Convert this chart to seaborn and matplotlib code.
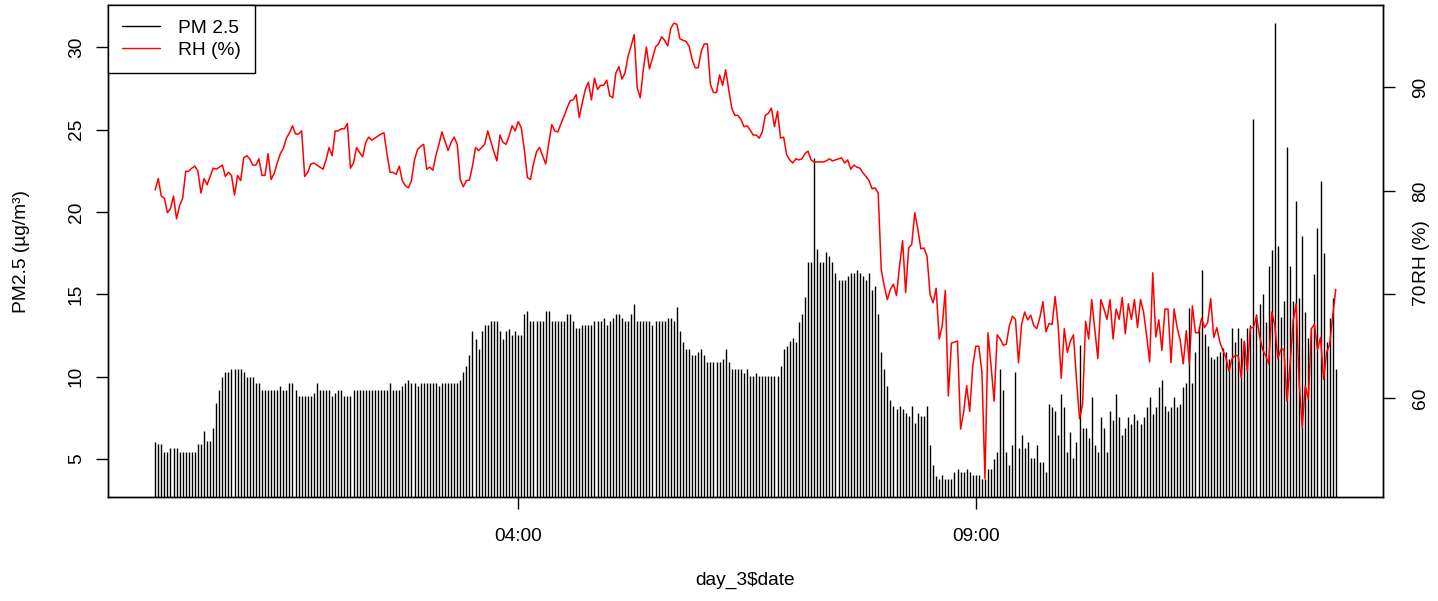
import matplotlib
matplotlib.use("Agg")
import matplotlib.pyplot as plt
import matplotlib.dates as mdates
from matplotlib.lines import Line2D
import seaborn as sns
import pandas as pd

# 2-minute readings, day 3 (00:02 -> 12:56)
start_time = "2021-06-03 00:02"
step = "2min"

pm25 = [
    6.0, 5.9, 5.9, 5.4, 5.4, 5.65, 5.65, 5.65, 5.4, 5.4, 5.4, 5.4, 5.4, 5.4, 5.9, 5.9, 6.7, 6.1, 6.1, 6.9,
    8.4, 9.2, 10.0, 10.25, 10.25, 10.45, 10.45, 10.45, 10.45, 10.25, 10.0, 10.0, 10.0, 9.6, 9.6, 9.2, 9.2, 9.2, 9.2, 9.2,
    9.2, 9.4, 9.2, 9.2, 9.6, 9.6, 9.2, 8.8, 8.8, 8.8, 8.8, 8.8, 9.0, 9.6, 9.2, 9.2, 9.2, 9.2, 8.8, 9.0,
    9.2,
    9.2, 8.8, 8.8, 8.8, 9.2, 9.2, 9.2, 9.2, 9.2, 9.2, 9.2, 9.2, 9.2, 9.2, 9.2, 9.2, 9.6, 9.2, 9.2, 9.2,
    9.4, 9.6, 9.8, 9.6, 9.6, 9.4, 9.6, 9.6, 9.6, 9.6, 9.6, 9.6, 9.4, 9.6, 9.6, 9.6, 9.6, 9.6, 9.6, 9.8,
    10.25, 10.65, 11.3, 12.75, 12.3, 11.7, 12.75, 13.15, 13.15, 13.35, 13.35, 13.35, 12.75, 12.3, 12.75, 12.9,
    12.55, 12.75, 12.55, 12.55, 13.8, 14.0, 13.35, 13.35, 13.35, 13.35,
    13.35, 14.0, 14.0, 13.35, 13.35, 13.35, 13.35, 13.35, 13.8, 13.8, 13.35, 12.95, 12.95, 13.15, 13.15, 13.15,
    13.15, 13.35, 13.35, 13.35, 13.57, 13.15, 13.35, 13.57, 13.8, 13.8, 13.57, 13.35, 13.35, 13.8, 14.4, 13.35,
    13.35, 13.35, 13.35, 13.35, 13.15, 13.35, 13.35, 13.35, 13.35, 13.57, 13.57, 13.35, 14.2, 12.75, 12.12, 11.7,
    11.7, 11.29, 11.29, 11.49, 11.7, 11.29, 10.87, 10.87, 10.87, 10.87, 10.87, 11.07, 11.7, 10.87, 10.46, 10.46,
    10.46,
    10.46, 10.22, 10.46, 10.02, 10.02, 10.22, 10.02, 10.02, 10.02, 10.02, 10.02, 10.02, 10.02, 10.66, 11.67, 11.88,
    12.18, 12.32, 12.12, 13.3, 13.8, 14.81, 16.94, 16.94, 23.3, 17.74, 16.94, 16.94, 17.54, 17.3, 16.94, 16.29,
    15.88, 15.88, 15.88, 16.09, 16.29, 16.29, 16.49, 16.29, 16.09, 15.88, 16.29, 15.27, 15.48, 13.8, 11.47, 10.46,
    9.41, 8.6, 8.2, 8.0, 8.2, 8.0, 7.79, 7.59, 8.2, 7.18, 7.79, 7.59, 7.59, 8.2, 5.87, 4.6, 3.95, 3.79,
    3.99, 3.79, 3.79, 3.79, 4.19, 4.39, 4.19, 4.19, 4.39, 4.19, 3.99, 3.99, 3.99, 3.79, 3.79, 4.39, 4.39, 5.0,
    5.4, 10.46, 9.19, 5.4, 4.6, 5.85, 10.26, 5.65, 6.47, 5.65, 6.05, 5.04, 5.04, 5.85, 4.8, 4.8, 4.19, 8.34,
    8.14, 7.93, 6.47, 8.94, 8.14, 5.44, 6.62, 5.04, 6.05, 11.92, 6.88, 6.88, 6.27, 8.74, 5.85, 5.44, 7.53, 6.88,
    5.44, 7.93, 7.33, 8.94, 7.53, 6.47, 6.88, 7.53, 7.12, 7.73, 7.33,
    7.12, 7.53, 8.14, 8.74, 7.73, 8.14, 9.35, 9.81, 8.2, 7.93, 8.14, 8.74, 8.14, 8.34, 9.35, 9.61, 14.16, 9.61,
    11.47, 13.0, 16.49, 12.59, 11.88, 11.17, 11.07, 11.27, 11.47, 11.72, 11.47, 11.07, 12.93, 12.12, 12.93, 12.32,
    12.12, 12.93, 13.13, 25.67, 13.8, 14.4, 15.0, 13.33, 16.7, 17.7, 31.46, 17.94, 13.6, 14.6, 23.97, 16.7, 14.6,
    20.64, 14.8, 18.55, 13.94, 12.32, 12.93, 16.23, 19.0, 21.89, 17.5, 12.12, 13.54, 14.8, 10.46,
]

rh = [
    80.1, 81.2, 79.5, 79.3, 77.9, 78.3, 79.5, 77.3, 78.6, 79.3, 81.9, 81.9, 82.2, 82.4, 81.9, 79.8, 81.2, 80.6,
    81.4, 82.2, 82.1, 82.3, 82.5, 81.4, 81.8, 81.5, 79.6, 81.5, 81.0, 83.2, 83.4, 83.1, 82.5, 82.5, 83.1, 81.5,
    81.5, 83.6, 81.1, 81.7, 82.7, 83.6, 84.1, 85.1, 85.6, 86.3, 85.5, 85.5, 85.8, 81.4, 81.8, 82.6, 82.7, 82.5,
    82.3, 82.1, 83.0, 84.2, 83.4, 85.8, 85.8, 86.0, 86.0, 86.5, 82.2, 82.7, 84.2, 83.7, 83.3, 84.7, 85.2, 84.9,
    85.1, 85.3, 85.5, 85.6, 83.5,
    81.8, 81.8, 81.6, 82.4, 81.0, 80.5, 80.3, 81.0, 83.0, 84.0, 84.3, 84.5, 82.1, 82.3, 82.0, 83.4, 84.5, 85.7,
    84.8, 83.9, 84.7, 85.2, 84.5, 81.1, 80.4, 81.0, 81.05, 82.4, 84.2, 83.9, 84.2, 84.5, 85.8, 84.8, 83.8, 82.9,
    85.4, 84.7, 84.5, 85.3, 86.3, 85.8, 86.7, 86.1, 84.0, 81.3, 81.1, 82.6, 83.8, 84.2, 83.4, 82.6, 84.6, 86.4,
    85.8, 85.7, 86.5, 87.2, 88.0, 88.7, 88.8, 89.3, 87.1,
    88.5, 89.8, 90.5, 88.8, 90.9, 89.8, 90.2, 90.2, 90.7, 89.2, 89.0, 91.4, 92.0, 90.8, 91.4, 93.0, 94.0, 95.1,
    89.95, 89.0, 91.7, 93.9, 91.8, 92.8, 93.9, 94.2, 94.9, 94.55, 94.0, 95.7, 96.2, 96.1, 94.7, 94.55, 94.45, 94.0,
    92.7, 91.9, 91.9, 93.5, 94.2, 94.2, 90.3, 89.5, 89.5, 91.2, 90.2, 91.7, 89.8, 88.0, 87.3, 87.3, 86.9, 86.2,
    86.3, 85.9, 85.4, 85.4, 85.1, 85.7, 87.3, 87.5, 88.0, 86.2, 87.7, 85.1, 85.2, 83.5,
    83.0, 82.7, 83.1, 83.0, 83.1, 83.6, 83.85, 83.0, 82.8, 82.8, 82.8, 82.8, 82.9, 83.1, 82.9, 83.0, 83.1, 83.2,
    82.7, 83.0, 82.1, 82.5, 82.3, 82.2, 81.75, 81.4, 81.0, 80.2, 80.3, 79.8, 72.4, 70.8, 69.5, 70.5, 71.0, 69.9,
    72.75, 75.2, 70.2, 74.5, 74.85, 77.9, 76.3, 74.4, 74.5, 73.7, 70.0, 69.2, 70.6, 65.7,
    67.0, 70.4, 60.2, 65.3, 65.4, 65.5, 57.0, 58.6, 61.2, 58.7, 63.1, 65.0, 65.0, 62.5, 52.2, 66.3, 63.1, 59.7,
    66.1, 65.7, 65.1, 65.2, 67.0, 67.9, 67.6, 63.4, 67.1, 68.3, 67.55, 68.0, 67.0, 66.7, 67.8, 69.3, 66.4, 67.2,
    67.1, 69.8, 67.0, 61.9, 66.7, 64.4, 65.5, 66.1, 61.8, 58.0, 59.4, 67.4, 65.7,
    69.5, 66.6, 63.8, 69.5, 68.6, 67.6, 69.5, 65.7, 68.6, 67.6, 69.7, 66.2, 69.1, 67.6, 69.5, 66.8,
    69.5, 68.3, 66.0, 63.5, 72.1, 65.9, 67.55, 64.6, 68.6, 68.6, 63.4, 68.6, 66.8, 65.6, 63.3, 66.5, 63.3, 68.9,
    66.3, 66.3, 67.7, 66.8, 67.3, 69.6, 65.85, 66.8, 65.4, 64.6, 63.9, 62.6, 63.8, 64.1, 64.1, 62.0, 65.5, 62.6,
    66.8, 66.8, 67.9, 66.0, 64.7, 64.1, 63.3, 68.3, 67.1, 63.8, 64.7, 64.7, 59.7, 63.1, 67.4, 69.1, 61.5, 57.2,
    61.2, 59.9, 66.7, 67.1, 64.7, 65.85, 61.8, 64.4, 65.2, 67.9, 70.5,
]

x_tick_times = ["04:00", "09:00"]
pm_ticks = [5, 10, 15, 20, 25, 30]
rh_ticks = [60, 70, 80, 90]

times = pd.date_range(start_time, periods=len(pm25), freq=step)
df = pd.DataFrame({"date": times, "pm25": pm25, "rh": rh})

sns.set_style("ticks", {"axes.edgecolor": "black", "xtick.color": "black", "ytick.color": "black",
                        "text.color": "black", "axes.labelcolor": "black"})
plt.rcParams["font.family"] = ["Liberation Sans", "DejaVu Sans"]
fs = 13.8

W, H = 1438, 601
fig = plt.figure(figsize=(W / 100, H / 100), dpi=100)
ax = fig.add_axes([108 / W, 1 - 497 / H, 1275 / W, 492 / H])

# PM2.5 as R type="h" spikes
ax.vlines(df["date"].values, 0, df["pm25"], color="black", linewidth=1.0)

def r_range(vals):
    # base R pads the data range by 4% on each side
    lo, hi = min(vals), max(vals)
    pad = (hi - lo) * 0.04
    return lo - pad, hi + pad

ax.set_ylim(*r_range(pm25))
t0, t1 = times[0], times[-1]
tpad = (t1 - t0) * 0.04
ax.set_xlim(t0 - tpad, t1 + tpad)

day = times[0].strftime("%Y-%m-%d")
ax.set_xticks(pd.to_datetime([f"{day} {t}" for t in x_tick_times]))
ax.xaxis.set_major_formatter(mdates.DateFormatter("%H:%M"))
ax.set_yticks(pm_ticks)

ax2 = ax.twinx()
sns.lineplot(data=df, x="date", y="rh", ax=ax2, color="red", linewidth=1.1)
ax2.set_ylim(*r_range(rh))
ax2.set_yticks(rh_ticks)
ax2.set_xlabel("")
ax2.set_ylabel("")
ax.set_xlabel("")
ax.set_ylabel("")

for a in (ax, ax2):
    a.tick_params(length=8.6, width=1.0, labelsize=fs, colors="black")
    for sp in a.spines.values():
        sp.set_linewidth(1.0)
        sp.set_color("black")
ax.tick_params(axis="x", pad=13.5)
ax.tick_params(axis="y", pad=8)
ax2.tick_params(axis="y", pad=12.5)
for lbl in ax.get_yticklabels() + ax2.get_yticklabels():
    lbl.set_rotation(90)
    lbl.set_va("center")

fig.text(22 / W, 1 - 251 / H, "PM2.5 (µg/m³)", rotation=90, ha="center", va="center", fontsize=fs)
fig.text(1421 / W, 1 - 252 / H, "RH (%)", rotation=90, ha="center", va="center", fontsize=fs)
fig.text(745 / W, 1 - 580 / H, "day_3$date", ha="center", va="center", fontsize=fs)

handles = [Line2D([], [], color="black", linewidth=1.0), Line2D([], [], color="red", linewidth=1.0)]
leg = ax2.legend(handles, ["PM 2.5", "RH (%)"], loc="upper left", bbox_to_anchor=(0, 1),
                 borderaxespad=0, fancybox=False, edgecolor="black", framealpha=1, fontsize=fs,
                 handlelength=1.95, handletextpad=0.95, borderpad=0.75, labelspacing=0.25)
leg.get_frame().set_linewidth(1.0)

fig.savefig("out.png", dpi=100)
